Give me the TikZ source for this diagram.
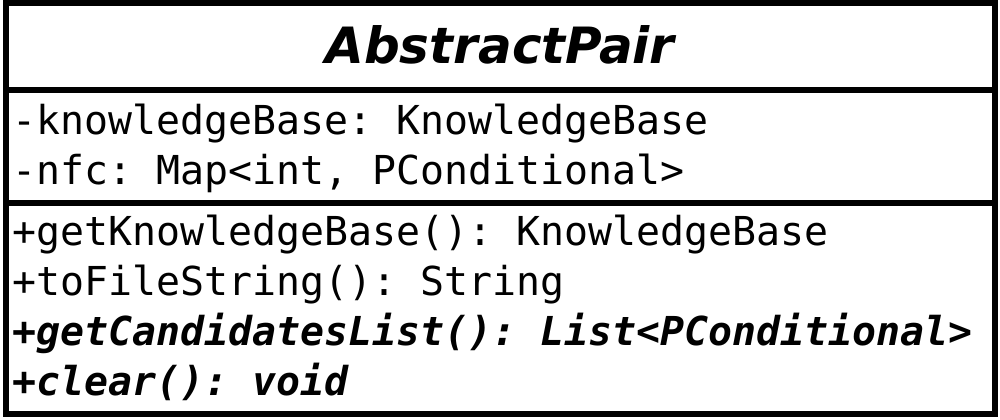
\documentclass[tikz,border=0pt]{standalone}
\usepackage{fontspec}
\setsansfont{DejaVu Sans}
\setmonofont{DejaVu Sans Mono}
\begin{document}
\begin{tikzpicture}[x=0.75pt,y=-0.75pt,
  boxline/.style={draw=black,line width=4.5pt},
  member/.style={anchor=base west,inner sep=0pt,font=\fontsize{29.9pt}{36pt}\selectfont\ttfamily},
  absmember/.style={member,font=\fontsize{29.9pt}{36pt}\selectfont\ttfamily\bfseries\itshape},
  titletext/.style={anchor=base,inner sep=0pt,font=\fontsize{37.5pt}{45pt}\selectfont\sffamily\bfseries\itshape}]
\useasboundingbox (0,0) rectangle (1000,419);
\fill[white] (0,0) rectangle (1000,419);
\draw[boxline] (5.5,2.5) rectangle (994.5,414);
\coordinate (s1l) at (5.5,90);
\coordinate (s1r) at (994.5,90);
\coordinate (s2l) at (5.5,202.5);
\coordinate (s2r) at (994.5,202.5);
\draw[boxline] (s1l) -- (s1r);
\draw[boxline] (s2l) -- (s2r);
\node[titletext] (title) at (500,63) {AbstractPair};
\node[member] (a1) at (12,134.5) {-knowledgeBase: KnowledgeBase};
\node[member] (a2) at (12,184.5) {-nfc: Map<int, PConditional>};
\node[member] (m1) at (12,245.5) {+getKnowledgeBase(): KnowledgeBase};
\node[member] (m2) at (12,295.5) {+toFileString(): String};
\node[absmember] (m3) at (12,345.5) {+getCandidatesList(): List<PConditional>};
\node[absmember] (m4) at (12,395.5) {+clear(): void};
\end{tikzpicture}
\end{document}
